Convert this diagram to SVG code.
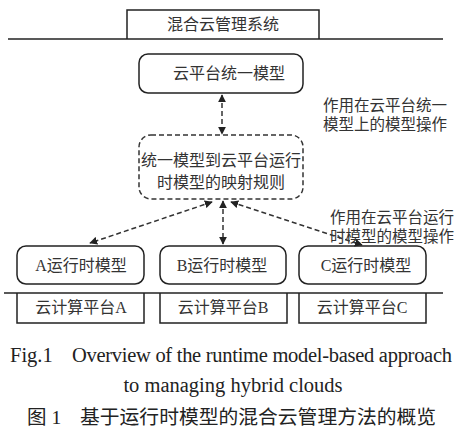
<svg xmlns="http://www.w3.org/2000/svg" width="465" height="432" viewBox="0 0 465 432">
<style>
.t{font-family:"Liberation Serif","Noto Sans CJK SC",serif;fill:#333;}
.c{font-size:16px;text-anchor:middle;}
.box{fill:#fff;stroke:#222;stroke-width:1.5;}
.ln{stroke:#222;stroke-width:1.5;fill:none;}
.dash{stroke:#333;stroke-width:1.5;fill:none;stroke-dasharray:5 3;}
</style>
<defs>
<marker id="ah" viewBox="0 0 10 10" refX="9" refY="5" markerWidth="8" markerHeight="8" markerUnits="userSpaceOnUse" orient="auto-start-reverse">
<path d="M0,0 L10,5 L0,10 Z" fill="#222"/>
</marker>
</defs>
<rect width="465" height="432" fill="#fff"/>
<g id="mgmt">
<path class="ln" d="M127,39 V10 H319 V39"/>
<line class="ln" x1="8" y1="39" x2="443" y2="39"/>
<text class="t c" x="223" y="30">混合云管理系统</text>
</g>
<g id="unified">
<rect class="box" x="139" y="54" width="164" height="39" rx="9"/>
<text class="t c" x="229" y="79">云平台统一模型</text>
</g>
<g id="mapping">
<rect class="dash" x="139" y="135" width="164" height="64" rx="12" style="fill:#fff"/>
<text class="t c" x="221" y="166">统一模型到云平台运行</text>
<text class="t c" x="221" y="188">时模型的映射规则</text>
</g>
<g id="label1">
<text class="t" style="font-size:15.5px" x="323" y="111">作用在云平台统一</text>
<text class="t" style="font-size:15.5px" x="323" y="130">模型上的模型操作</text>
</g>
<g id="label2">
<text class="t" style="font-size:15.5px" x="330" y="223">作用在云平台运行</text>
<text class="t" style="font-size:15.5px" x="330" y="242">时模型的模型操作</text>
</g>
<g id="runA">
<rect class="box" x="17" y="246" width="127" height="38" rx="9"/>
<text class="t c" x="81" y="271">A运行时模型</text>
</g>
<g id="runB">
<rect class="box" x="160" y="246" width="126" height="38" rx="9"/>
<text class="t c" x="222" y="271">B运行时模型</text>
</g>
<g id="runC">
<rect class="box" x="299" y="246" width="127" height="38" rx="9"/>
<text class="t c" x="366" y="271">C运行时模型</text>
</g>
<g id="platforms">
<line class="ln" x1="4" y1="293" x2="443" y2="293"/>
</g>
<g id="platA">
<path class="ln" d="M17,293 V323 H144 V293"/>
<text class="t c" x="81" y="313">云计算平台A</text>
</g>
<g id="platB">
<path class="ln" d="M160,293 V323 H287 V293"/>
<text class="t c" x="223" y="313">云计算平台B</text>
</g>
<g id="platC">
<path class="ln" d="M299,293 V323 H426 V293"/>
<text class="t c" x="362" y="313">云计算平台C</text>
</g>
<g id="connectors">
<line class="dash" x1="222" y1="95" x2="222" y2="134" marker-start="url(#ah)" marker-end="url(#ah)"/>
<line class="dash" x1="212" y1="202" x2="90" y2="243" marker-start="url(#ah)" marker-end="url(#ah)"/>
<line class="dash" x1="223" y1="201" x2="223" y2="244" marker-start="url(#ah)" marker-end="url(#ah)"/>
<line class="dash" x1="231" y1="202" x2="362" y2="245" marker-start="url(#ah)" marker-end="url(#ah)"/>
</g>
<g id="caption">
<text class="t" style="font-size:20.5px;fill:#222" x="10" y="362">Fig.1</text>
<text class="t" style="font-size:20.5px;fill:#222" x="72" y="362" textLength="380">Overview of the runtime model-based approach</text>
<text class="t" style="font-size:20.5px;fill:#222;text-anchor:middle" x="233" y="392">to managing hybrid clouds</text>
<text class="t" style="font-size:19.5px;fill:#222" x="27" y="424">图 1</text>
<text class="t" style="font-size:19.8px;fill:#222" x="80" y="424">基于运行时模型的混合云管理方法的概览</text>
</g>
</svg>
